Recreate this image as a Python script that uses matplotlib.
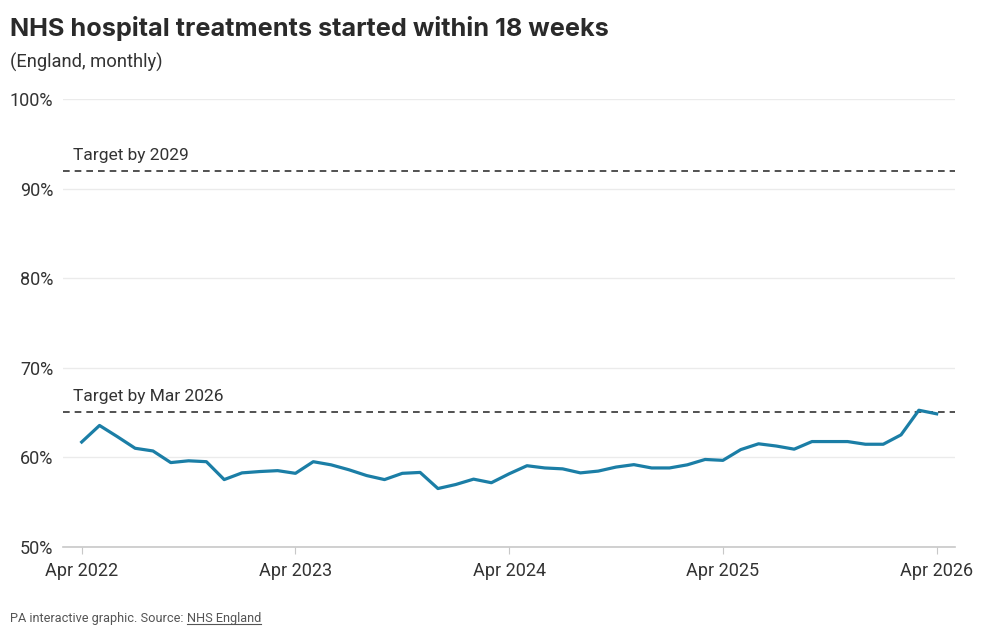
import matplotlib
matplotlib.use("Agg")
import matplotlib.pyplot as plt
from matplotlib.lines import Line2D
import numpy as np

# ---- data ----
start_label = "Apr 2022"
values = [61.7, 63.55, 62.3, 61.0, 60.7, 59.4, 59.6, 59.5, 57.5, 58.25,
          58.4, 58.5, 58.2, 59.5, 59.15, 58.6, 57.95, 57.5, 58.2, 58.3,
          56.5, 56.95, 57.55, 57.15, 58.15, 59.05, 58.8, 58.7, 58.25, 58.45,
          58.9, 59.17, 58.8, 58.8, 59.15, 59.75, 59.65, 60.85, 61.5, 61.25,
          60.9, 61.75, 61.75, 61.75, 61.45, 61.45, 62.5, 65.25, 64.85]
tick_months = [0, 12, 24, 36, 48]
tick_labels = ["Apr 2022", "Apr 2023", "Apr 2024", "Apr 2025", "Apr 2026"]
y_ticks = [50, 60, 70, 80, 90, 100]
target_values = [92, 65]
target_labels = ["Target by 2029", "Target by Mar 2026"]

title = "NHS hospital treatments started within 18 weeks"
subtitle = "(England, monthly)"
footer = "PA interactive graphic. Source: "
footer_link = "NHS England"

plt.rcParams['font.family'] = ['Roboto', 'DejaVu Sans']

W, H = 1000, 637
fig = plt.figure(figsize=(W / 100, H / 100), dpi=100)
ax = fig.add_axes([63 / W, 1 - 546.7 / H, (955 - 63) / W, (546.7 - 99.3) / H])

x = np.arange(len(values))
ax.plot(x, values, color="#1b7ea6", lw=2.3, solid_joinstyle="round", zorder=3)

for v, lab in zip(target_values, target_labels):
    ax.axhline(v, color="#333333", lw=1.2, ls=(0, (4, 3)), zorder=2)
    ax.text(-0.5, v + 0.9, lab, fontsize=12.5, color="#333333", ha="left", va="bottom")

ax.set_xlim(-1.05, 49.03)
ax.set_ylim(50, 100)
ax.set_yticks(y_ticks)
ax.set_yticklabels([f"{t}%" for t in y_ticks])
ax.set_xticks(tick_months)
ax.set_xticklabels(tick_labels)
ax.grid(axis="y", color="#ebebeb", lw=1)
ax.set_axisbelow(True)
for s in ["top", "right", "left"]:
    ax.spines[s].set_visible(False)
ax.spines["bottom"].set_color("#c8c8c8")
ax.spines["bottom"].set_linewidth(1.2)
ax.tick_params(axis="y", length=0, pad=7, labelsize=13, labelcolor="#333333")
ax.tick_params(axis="x", length=5, width=0.8, color="#c8c8c8", pad=6,
               labelsize=13, labelcolor="#333333")

fig.text(10 / W, 1 - 36 / H, title, fontsize=18.2, fontweight="bold",
         family=["Inter", "DejaVu Sans"], color="#2a2a2a", ha="left", va="baseline")
fig.text(10 / W, 1 - 68 / H, subtitle, fontsize=13.2, color="#333333",
         ha="left", va="baseline")

t1 = fig.text(10 / W, 1 - 622 / H, footer, fontsize=9.2, color="#555555",
              ha="left", va="baseline")
fig.canvas.draw()
r = fig.canvas.get_renderer()
bb = t1.get_window_extent(r)
t2 = fig.text(bb.x1 / W, 1 - 622 / H, footer_link, fontsize=9.2, color="#555555",
              ha="left", va="baseline")
fig.canvas.draw()
bb2 = t2.get_window_extent(r)
uy = (bb2.y0 + 1) / H
fig.add_artist(Line2D([bb2.x0 / W, bb2.x1 / W], [uy, uy], color="#555555",
                      lw=0.8, transform=fig.transFigure))

fig.savefig("out.png", dpi=100, facecolor="white")
